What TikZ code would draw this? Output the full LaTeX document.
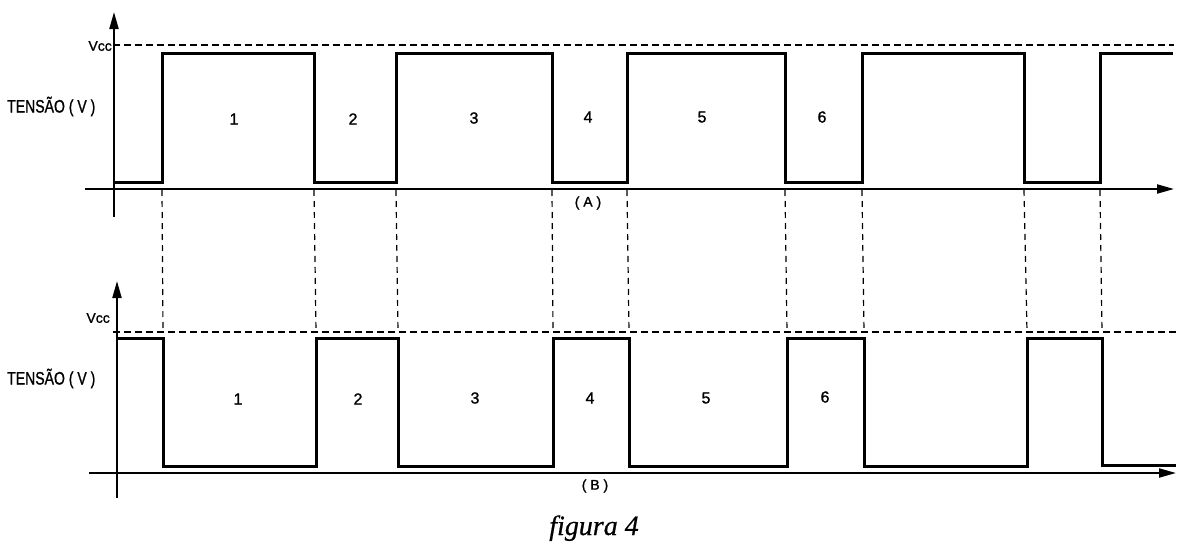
\documentclass[tikz,border=0pt]{standalone}
\usepackage{fontspec}
\setmainfont{Liberation Sans}
\newfontfamily\labfont[FakeBold=1.2]{Liberation Sans}
\newfontfamily\capfont[FakeBold=0.6]{Liberation Serif}
\usetikzlibrary{arrows.meta}
\tikzset{
  sig/.style={line width=3pt, line join=miter, line cap=butt},
  axisline/.style={line width=2pt, -{Triangle[length=17pt,width=9pt]}},
  vccline/.style={line width=1.6pt, dash pattern=on 7pt off 4pt},
  guide/.style={line width=1.2pt, dash pattern=on 6pt off 5pt},
  numlab/.style={font=\labfont\fontsize{16}{16}\selectfont, inner sep=0pt},
  vcclab/.style={font=\labfont\fontsize{14}{14}\selectfont, inner sep=0pt, anchor=east},
  axlab/.style={font=\labfont\fontsize{18}{18}\selectfont, inner sep=0pt, anchor=base west},
  panlab/.style={font=\labfont\fontsize{14}{14}\selectfont, inner sep=0pt},
}
\begin{document}
\begin{tikzpicture}[x=1pt,y=-1pt]
\useasboundingbox (0,0) rectangle (1191,546);
% ---------------- panel A ----------------
\coordinate (ayb) at (114,217);
\coordinate (ayt) at (114,12);
\coordinate (axl) at (85,189);
\coordinate (axr) at (1174,189);
\coordinate (avl) at (113,45);
\coordinate (avr) at (1174,45);
\draw[vccline] (avl) -- (avr);
\draw[axisline] (ayb) -- (ayt);
\draw[axisline] (axl) -- (axr);
\draw[sig] (114,182) -- (162,182) -- (162,53) -- (314,53) -- (314,182)
  -- (396,182) -- (396,53) -- (552,53) -- (552,182) -- (627,182) -- (627,53)
  -- (785,53) -- (785,182) -- (862,182) -- (862,53) -- (1024,53) -- (1024,182)
  -- (1100,182) -- (1100,53) -- (1173,53);
\node[vcclab] (avcc) at (112,46) {Vcc};
\node[axlab] (aten) at (7,112.5) {\scalebox{0.78}[1]{TENSÃO ( V )}};
\node[numlab] (a1) at (234,119) {1};
\node[numlab] (a2) at (353,119) {2};
\node[numlab] (a3) at (474,118) {3};
\node[numlab] (a4) at (588,117) {4};
\node[numlab] (a5) at (702,117) {5};
\node[numlab] (a6) at (822,117) {6};
\node[panlab] (alab) at (588,203) {( A )};
% ---------------- panel B ----------------
\coordinate (byb) at (117,498);
\coordinate (byt) at (117,281);
\coordinate (bxl) at (89,473);
\coordinate (bxr) at (1176,473);
\coordinate (bvl) at (113,332);
\coordinate (bvr) at (1177,332);
\draw[vccline] (bvl) -- (bvr);
\draw[axisline] (byb) -- (byt);
\draw[axisline] (bxl) -- (bxr);
\draw[sig] (117,338) -- (163,338) -- (163,466) -- (316,466) -- (316,338)
  -- (398,338) -- (398,466) -- (553,466) -- (553,338) -- (629,338) -- (629,466)
  -- (787,466) -- (787,338) -- (864,338) -- (864,466) -- (1027,466) -- (1027,338)
  -- (1102,338) -- (1102,465) -- (1176,465);
\node[vcclab] (bvcc) at (110,318) {Vcc};
\node[axlab] (bten) at (7,384.5) {\scalebox{0.78}[1]{TENSÃO ( V )}};
\node[numlab] (b1) at (238,399) {1};
\node[numlab] (b2) at (358,399) {2};
\node[numlab] (b3) at (475,398) {3};
\node[numlab] (b4) at (590,398) {4};
\node[numlab] (b5) at (706,398) {5};
\node[numlab] (b6) at (825,397) {6};
\node[panlab] (blab) at (595,486) {( B )};
% ---------------- guides ----------------
\foreach \a/\b in {162/163, 314/316, 396/398, 552/553, 627/629, 785/787, 862/864, 1024/1027, 1100/1102}
  \draw[guide] (\a,190) -- (\b,332);
% ---------------- caption ----------------
\node[font=\capfont\itshape\fontsize{28}{28}\selectfont, inner sep=0pt, anchor=base] (cap) at (594,535) {figura 4};
\end{tikzpicture}
\end{document}
